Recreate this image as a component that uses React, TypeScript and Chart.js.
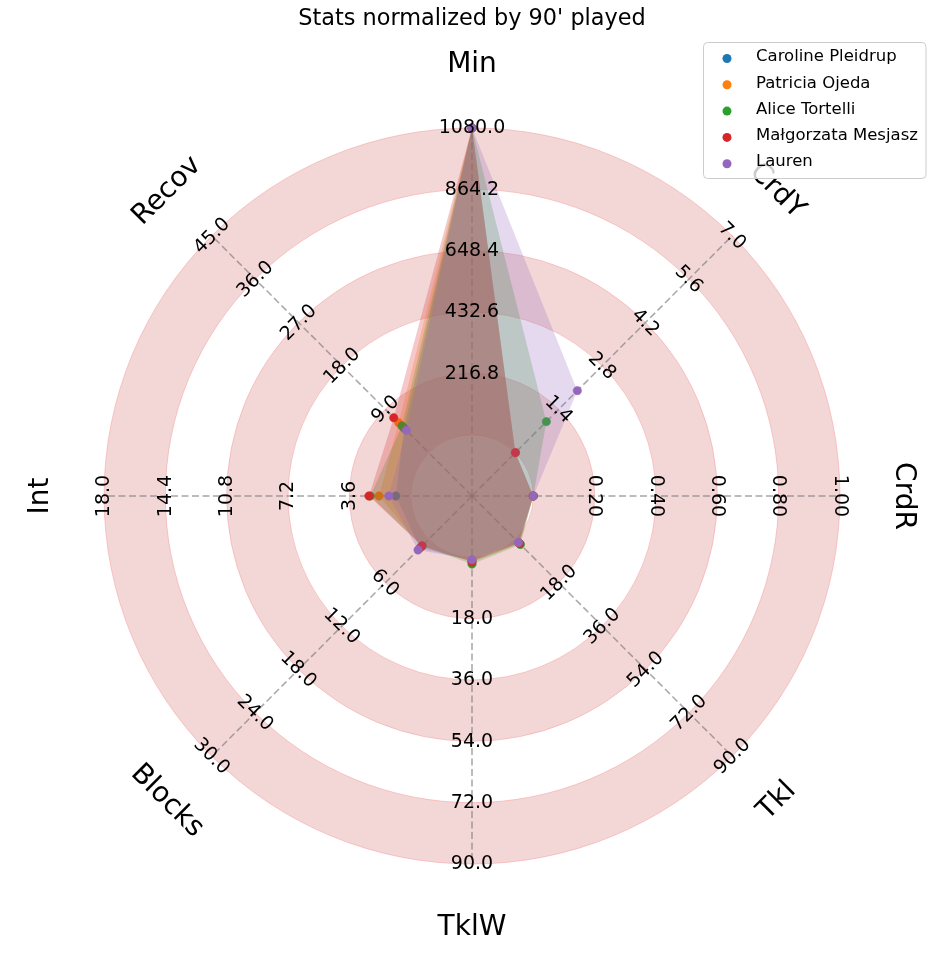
import React, { useEffect, useRef } from 'react';
import { Chart, registerables } from 'chart.js';

Chart.register(...registerables);

const FONT = '"DejaVu Sans", "Liberation Sans", sans-serif';

const chartTitle = "Stats normalized by 90' played";
const axisLabels = ['Min', 'CrdY', 'CrdR', 'Tkl', 'TklW', 'Blocks', 'Int', 'Recov'];
const rangeLow = [1, 0, 0, 0, 0, 0, 0, 0];
const rangeHigh = [1080, 7, 1, 90, 90, 30, 18, 45];

const minTicks = ['216.8', '432.6', '648.4', '864.2', '1080.0'];
const crdYTicks = ['1.4', '2.8', '4.2', '5.6', '7.0'];
const crdRTicks = ['0.20', '0.40', '0.60', '0.80', '1.00'];
const tklTicks = ['18.0', '36.0', '54.0', '72.0', '90.0'];
const tklWTicks = ['18.0', '36.0', '54.0', '72.0', '90.0'];
const blocksTicks = ['6.0', '12.0', '18.0', '24.0', '30.0'];
const intTicks = ['3.6', '7.2', '10.8', '14.4', '18.0'];
const recovTicks = ['9.0', '18.0', '27.0', '36.0', '45.0'];
const tickLabels = [minTicks, crdYTicks, crdRTicks, tklTicks, tklWTicks, blocksTicks, intTicks, recovTicks];

const playerNames = ['Caroline Pleidrup', 'Patricia Ojeda', 'Alice Tortelli', 'Małgorzata Mesjasz', 'Lauren'];
const playerColors = ['#1f77b4', '#ff7f0e', '#2ca02c', '#d62728', '#9467bd'];

// order: Min, CrdY, CrdR, Tkl, TklW, Blocks, Int, Recov
const carolineValues = [1080, 0, 0, 1.4, 1.0, 1.2, 0.87, 5.1];
const patriciaValues = [1080, 0, 0, 1.6, 1.2, 1.0, 1.86, 6.22];
const aliceValues = [1080, 1.0, 0, 2.1, 2.0, 0.9, 2.37, 5.55];
const malgorzataValues = [1080, 0, 0, 1.75, 1.4, 0.92, 2.45, 7.24];
const laurenValues = [1080, 2.0, 0, 1.3, 0.73, 1.47, 1.28, 4.62];
const playerValues = [carolineValues, patriciaValues, aliceValues, malgorzataValues, laurenValues];

function normalize(values: number[]) {
  return values.map((v, i) => (v - rangeLow[i]) / (rangeHigh[i] - rangeLow[i]));
}

function hexToRgba(hex: string, a: number) {
  const n = parseInt(hex.slice(1), 16);
  return `rgba(${(n >> 16) & 255},${(n >> 8) & 255},${n & 255},${a})`;
}

function rotationFor(i: number, n: number) {
  const deg = (i * 360) / n;
  let r;
  if (deg <= 90) r = deg;
  else if (deg < 270) r = deg - 180;
  else r = deg - 360;
  return (r * Math.PI) / 180;
}

const decorPlugin = {
  id: 'radarDecor',
  beforeDraw(chart: any) {
    const scale = chart.scales.r;
    const ctx = chart.ctx;
    const cx = scale.xCenter;
    const cy = scale.yCenter;
    const d = (v: number) => scale.getDistanceFromCenterForValue(v);
    ctx.save();
    const bands = [[0, 0.2], [0.4, 0.6], [0.8, 1.0]];
    for (const [a, b] of bands) {
      ctx.beginPath();
      ctx.arc(cx, cy, d(b), 0, Math.PI * 2);
      ctx.moveTo(cx + d(a), cy);
      ctx.arc(cx, cy, d(a), 0, Math.PI * 2, true);
      ctx.closePath();
      ctx.fillStyle = 'rgb(243,215,215)';
      ctx.fill('evenodd');
    }
    ctx.strokeStyle = 'rgba(245,160,160,0.55)';
    ctx.lineWidth = 1;
    for (const v of [0, 0.2, 0.4, 0.6, 0.8, 1.0]) {
      ctx.beginPath();
      ctx.arc(cx, cy, d(v), 0, Math.PI * 2);
      ctx.stroke();
    }
    ctx.restore();
  },
  afterDatasetsDraw(chart: any) {
    const scale = chart.scales.r;
    const ctx = chart.ctx;
    const cx = scale.xCenter;
    const cy = scale.yCenter;
    const n = axisLabels.length;
    ctx.save();
    ctx.fillStyle = '#000';
    ctx.font = `19px ${FONT}`;
    ctx.textAlign = 'center';
    ctx.textBaseline = 'middle';
    for (let i = 0; i < n; i++) {
      const ang = (i * 2 * Math.PI) / n;
      const rot = rotationFor(i, n);
      tickLabels[i].forEach((t, k) => {
        const dist = scale.getDistanceFromCenterForValue((k + 1) * 0.2);
        const x = cx + dist * Math.sin(ang);
        const y = cy - dist * Math.cos(ang);
        ctx.save();
        ctx.translate(x, y);
        ctx.rotate(rot);
        ctx.fillText(t, 0, 0.5);
        ctx.restore();
      });
    }
    ctx.restore();
  },
  afterDraw(chart: any) {
    const scale = chart.scales.r;
    const ctx = chart.ctx;
    const cx = scale.xCenter;
    const cy = scale.yCenter;
    const n = axisLabels.length;
    ctx.save();
    ctx.fillStyle = '#000';
    ctx.font = `28px ${FONT}`;
    ctx.textAlign = 'center';
    ctx.textBaseline = 'middle';
    const dist = scale.getDistanceFromCenterForValue(1.2) + 2;
    for (let i = 0; i < n; i++) {
      const ang = (i * 2 * Math.PI) / n;
      const x = cx + dist * Math.sin(ang);
      const y = cy - dist * Math.cos(ang);
      ctx.save();
      ctx.translate(x, y);
      ctx.rotate(rotationFor(i, n));
      ctx.fillText(axisLabels[i], 0, 0);
      ctx.restore();
    }
    // legend
    const lx = 703.5, ly = 42.5, lw = 222.5, lh = 136;
    ctx.beginPath();
    (ctx as any).roundRect(lx, ly, lw, lh, 4);
    ctx.fillStyle = 'rgba(255,255,255,0.8)';
    ctx.fill();
    ctx.strokeStyle = '#cccccc';
    ctx.lineWidth = 1;
    ctx.stroke();
    ctx.font = `16.5px ${FONT}`;
    ctx.textAlign = 'left';
    ctx.textBaseline = 'middle';
    playerNames.forEach((name, i) => {
      const y = 58.5 + 26.3 * i;
      ctx.beginPath();
      ctx.arc(727, y, 4.5, 0, Math.PI * 2);
      ctx.fillStyle = playerColors[i];
      ctx.fill();
      ctx.fillStyle = '#000';
      ctx.fillText(name, 756, y - 1.5);
    });
    ctx.restore();
  },
};

export default function App() {
  const ref = useRef<HTMLCanvasElement>(null);
  useEffect(() => {
    if (!ref.current) return;
    const chart = new Chart(ref.current, {
      type: 'radar',
      data: {
        labels: axisLabels,
        datasets: playerValues.map((vals, i) => ({
          label: playerNames[i],
          data: normalize(vals),
          backgroundColor: hexToRgba(playerColors[i], 0.25),
          borderColor: 'rgba(0,0,0,0)',
          borderWidth: 0,
          fill: 'start',
          pointRadius: 4.2,
          pointBackgroundColor: playerColors[i],
          pointBorderColor: playerColors[i],
          pointBorderWidth: 0.5,
          order: playerValues.length - 1 - i,
        })),
      },
      options: {
        responsive: false,
        animation: false,
        layout: { padding: { left: 103, right: 103, top: 0, bottom: 103 } },
        elements: { line: { tension: 0 } },
        plugins: {
          legend: { display: false },
          tooltip: { enabled: false },
          title: {
            display: true,
            text: chartTitle,
            color: '#000',
            font: { family: FONT, size: 22.4, weight: 'normal' },
            padding: { top: 6, bottom: 94.3 },
          },
        },
        scales: {
          r: {
            min: -0.2,
            max: 1,
            ticks: { display: false, stepSize: 0.2 },
            grid: { display: false },
            angleLines: {
              display: true,
              color: 'rgba(120,120,120,0.65)',
              lineWidth: 1.5,
              borderDash: [7, 3.5],
            },
            pointLabels: { display: false },
          },
        },
      } as any,
      plugins: [decorPlugin],
    });
    return () => chart.destroy();
  }, []);
  return (
    <div style={{ position: 'absolute', left: 0, top: 0, width: 944, height: 968, background: '#fff' }}>
      <canvas ref={ref} width={944} height={968} style={{ display: 'block', width: 944, height: 968 }} />
    </div>
  );
}
